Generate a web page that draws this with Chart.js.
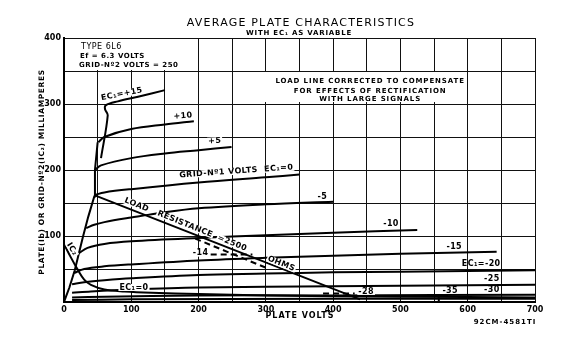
<!DOCTYPE html>
<html>
<head>
<meta charset="utf-8">
<script src="https://cdn.jsdelivr.net/npm/chart.js@4"></script>
<style>
  html, body { margin: 0; padding: 0; background: #fff; }
  #wrap { width: 580px; height: 337px; }
</style>
</head>
<body>
<div id="wrap"><canvas id="plateChart" width="580" height="337"></canvas></div>
<script>
// plate volts / milliamperes, one array per grid-No.1 voltage
const ec1Plus15 = [[55,218],[65,283],[61,292],[62,298],[80,304],[110,311],[150,321]];
const ec1Plus10 = [[51,242],[60,250],[100,262],[150,269],[193,274]];
const ec1Plus5 = [[46,200],[55,207],[100,218],[150,225],[200,230],[249,235]];
const ec1Zero = [[45,162],[60,166],[100,171],[200,181],[300,189],[350,193]];
const ec1Minus5 = [[33,112],[45,117],[60,121],[100,128],[150,136],[200,142],[300,148],[400,152]];
const ec1Minus10 = [[22,74],[35,82],[60,88],[100,92],[200,97],[300,101],[400,105],[525,109]];
const ec1Minus15 = [[15,44],[30,50],[60,54],[100,57],[200,63],[300,67],[400,70],[500,73],[643,76]];
const ec1Minus20 = [[12,27],[30,30],[60,33],[100,36],[200,41],[300,43],[400,45],[500,46],[700,48]];
const ec1Minus25 = [[12,14],[40,16],[100,19],[200,22],[400,24],[700,26]];
const ec1Minus30 = [[12,7],[60,8],[200,10],[400,10],[700,11]];
const ec1Minus35 = [[12,3],[100,4],[400,5],[700,5]];
const kneeLine = [[0,0],[8,22],[16,48],[28,98],[36,129],[45,160],[46,200],[50,242]];
const screenCurrent = [[0,88],[10,68],[21,48],[30,34],[40,26],[60,19],[90,16],[130,14],[200,12],[300,10],[500,8],[700,7]];
const loadLine = [[45,162],[440,4]];
const correctedLoad = [[195,96],[300,52]];
const ec1Minus14 = [[218,72],[280,72]];
const ec1Minus28 = [[385,13],[432,13]];
const minus35Mark = [[557,1],[557,11]];

const xTicks = [0,100,200,300,400,500,600,700];
const yTicks = [100,200,300,400];

const FONT = '"DejaVu Sans", sans-serif';

function toPts(arr){
    return arr.map(p => ({x: p[0], y: p[1]}));
}
function curve(arr, dashed, straight){
    return {
        data: toPts(arr),
        showLine: true,
        borderColor: '#000',
        borderWidth: 2,
        borderDash: dashed ? [6,4] : [],
        pointRadius: 0,
        tension: straight ? 0 : 0.35,
        fill: false
    };
}

const datasets = [
    curve(ec1Plus15), curve(ec1Plus10), curve(ec1Plus5), curve(ec1Zero),
    curve(ec1Minus5), curve(ec1Minus10), curve(ec1Minus15), curve(ec1Minus20),
    curve(ec1Minus25), curve(ec1Minus30), curve(ec1Minus35),
    curve(kneeLine, false, true), curve(screenCurrent),
    curve(loadLine, false, true), curve(minus35Mark, false, true),
    curve(correctedLoad, true, true), curve(ec1Minus14, true, true), curve(ec1Minus28, true, true)
];

// text on the plot: [text, volts, mA, rotation deg, white backing]
const curveLabels = [
    ['EC₁=+15', 86, 315, -11, true],
    ['+10', 177, 282, -5, true],
    ['+5', 224, 244, -3, true],
    ['GRID-Nº1 VOLTS  EC₁=0', 256, 198, -4, true],
    ['-5', 384, 159, 0, false],
    ['-10', 486, 118, 0, false],
    ['-15', 580, 84, 0, false],
    ['EC₁=-20', 620, 57, 0, false],
    ['-25', 636, 35, 0, false],
    ['-30', 636, 18, 0, false],
    ['-35', 574, 17, 0, false],
    ['-28', 449, 16, 0, true],
    ['-14', 203, 74, 0, true],
    ['LOAD', 108, 147, 22, true],
    ['RESISTANCE', 180, 118, 22, true],
    ['=2500', 250, 89, 22, true],
    ['OHMS', 323, 58, 22, true],
    ['EC₁=0', 104, 22, 0, true],
    ['IC₂', 12, 80, 58, true]
];

const textPlugin = {
    id: 'chartText',
    beforeDatasetsDraw(chart){
        const ctx = chart.ctx, x = chart.scales.x, y = chart.scales.y;
        ctx.save();
        ctx.fillStyle = '#fff';
        // clear boxes behind the two notes
        ctx.fillRect(x.getPixelForValue(0) + 1, y.getPixelForValue(400) + 1,
            x.getPixelForValue(198) - x.getPixelForValue(0) - 1, y.getPixelForValue(350) - y.getPixelForValue(400) - 2);
        ctx.fillRect(x.getPixelForValue(297), y.getPixelForValue(350) + 1,
            x.getPixelForValue(597) - x.getPixelForValue(297), y.getPixelForValue(303) - y.getPixelForValue(350) - 1);
        ctx.restore();
    },
    afterDraw(chart){
        const ctx = chart.ctx, x = chart.scales.x, y = chart.scales.y;
        ctx.save();
        ctx.fillStyle = '#000';
        ctx.textBaseline = 'middle';

        ctx.textAlign = 'center';
        ctx.letterSpacing = '1.2px';
        ctx.font = '11px ' + FONT;
        ctx.fillText('AVERAGE PLATE CHARACTERISTICS', 301, 23);
        ctx.letterSpacing = '0.8px';
        ctx.font = 'bold 7px ' + FONT;
        ctx.fillText('WITH EC₁ AS VARIABLE', 299, 33);

        ctx.textAlign = 'left';
        ctx.letterSpacing = '0.5px';
        ctx.font = '8px ' + FONT;
        ctx.fillText('TYPE 6L6', 81, 47);
        ctx.font = 'bold 7px ' + FONT;
        ctx.fillText('Ef = 6.3 VOLTS', 80, 56);
        ctx.fillText('GRID-Nº2 VOLTS = 250', 79, 65);

        ctx.textAlign = 'center';
        ctx.letterSpacing = '0.9px';
        ctx.font = 'bold 7px ' + FONT;
        const noteX = x.getPixelForValue(455);
        ctx.fillText('LOAD LINE CORRECTED TO COMPENSATE', noteX, y.getPixelForValue(334));
        ctx.fillText('FOR EFFECTS OF RECTIFICATION', noteX, y.getPixelForValue(320));
        ctx.fillText('WITH LARGE SIGNALS', noteX, y.getPixelForValue(307));

        curveLabels.forEach(l => {
            const px = x.getPixelForValue(l[1]), py = y.getPixelForValue(l[2]);
            ctx.save();
            ctx.translate(px, py);
            ctx.rotate(l[3] * Math.PI / 180);
            ctx.font = 'bold 8px ' + FONT;
            ctx.letterSpacing = '0.4px';
            if (l[4]) {
                const w = ctx.measureText(l[0]).width;
                ctx.fillStyle = '#fff';
                ctx.fillRect(-w / 2 - 1, -3.5, w + 2, 7);
            }
            ctx.fillStyle = '#000';
            ctx.fillText(l[0], 0, 0);
            ctx.restore();
        });

        ctx.letterSpacing = '1px';
        ctx.font = 'bold 8px ' + FONT;
        ctx.fillText('PLATE VOLTS', 300, 316);
        ctx.font = 'bold 7px ' + FONT;
        ctx.fillText('92CM-4581TI', 505, 322);

        ctx.translate(42, 172);
        ctx.rotate(-Math.PI / 2);
        ctx.letterSpacing = '0.6px';
        ctx.font = 'bold 7.5px ' + FONT;
        ctx.fillText('PLATE(Ib) OR GRID-Nº2(IC₂) MILLIAMPERES', 0, 0);
        ctx.restore();
    }
};

const chartCanvas = document.getElementById('plateChart').getContext('2d');
const plateChart = new Chart(chartCanvas, {
    type: 'scatter',
    data: { datasets: datasets },
    options: {
        responsive: false,
        animation: false,
        layout: { padding: { top: 38, right: 45, left: 0, bottom: 0 } },
        plugins: { legend: { display: false }, tooltip: { enabled: false } },
        scales: {
            x: {
                type: 'linear', min: 0, max: 700,
                afterFit: s => { s.height = 35; },
                border: { color: '#000', width: 2 },
                grid: { color: '#111', lineWidth: 1, drawTicks: false },
                ticks: {
                    stepSize: 50, padding: 3, color: '#000', maxRotation: 0, autoSkip: false,
                    font: { family: FONT, size: 8, weight: 'bold' },
                    callback: v => xTicks.includes(v) ? String(v) : ''
                }
            },
            y: {
                type: 'linear', min: 0, max: 400,
                afterFit: s => { s.width = 64; },
                border: { color: '#000', width: 2 },
                grid: { color: '#111', lineWidth: 1, drawTicks: false },
                ticks: {
                    stepSize: 50, padding: 3, color: '#000', autoSkip: false,
                    font: { family: FONT, size: 8, weight: 'bold' },
                    callback: v => yTicks.includes(v) ? String(v) : ''
                }
            }
        }
    },
    plugins: [textPlugin]
});
</script>
</body>
</html>
